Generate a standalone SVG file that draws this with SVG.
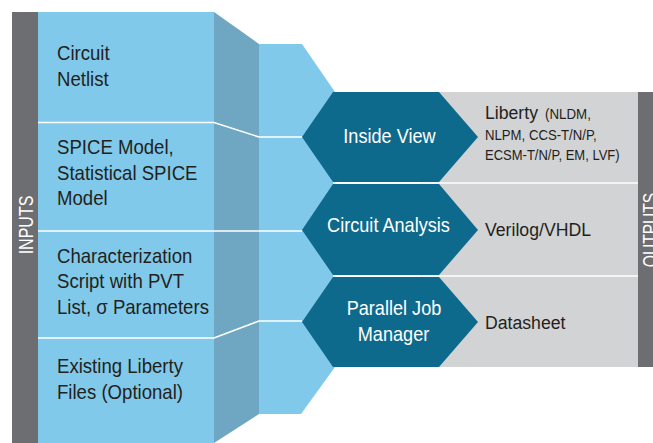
<svg xmlns="http://www.w3.org/2000/svg" width="653" height="443" viewBox="0 0 653 443">
<style>
.t{font-family:"Liberation Sans",Arial,sans-serif;fill:#231f20}
.w{font-family:"Liberation Sans",Arial,sans-serif;fill:#ffffff}
.sep{stroke:#ffffff;stroke-width:1.6;fill:none}
.hex{fill:#0e6a8c}
.bar{fill:#6d6e71}
</style>
<rect width="653" height="443" fill="#ffffff"/>
<g id="inputs-panel">
<rect class="bar" x="12" y="12" width="26" height="431"/>
<rect x="38" y="12" width="176" height="431" fill="#80c9ea"/>
<polygon points="214,12 259,44 259,414 214,443" fill="#6fa6c2"/>
<polygon points="259,44 302,44 335,92 335,367 301,414 259,414" fill="#80c9ea"/>
<text class="w" font-size="20" transform="translate(32.5,225) rotate(-90) scale(0.8,1)" text-anchor="middle">INPUTS</text>
</g>
<g id="outputs-panel">
<rect x="420" y="92" width="218" height="275" fill="#d2d3d5"/>
<rect class="bar" x="638" y="92" width="15" height="275"/>
<text class="w" font-size="20" transform="translate(657,230) rotate(-90) scale(0.78,1)" text-anchor="middle">OUTPUTS</text>
</g>
<g id="connectors">
<polyline class="sep" points="38,122.5 214,122.5 259,137 302,137"/>
<line class="sep" x1="38" y1="231" x2="302" y2="231"/>
<polyline class="sep" points="38,338 214,338 259,321 302,321"/>
<line class="sep" x1="333" y1="183" x2="638" y2="183"/>
<line class="sep" x1="333" y1="276" x2="638" y2="276"/>
</g>
<g id="in-netlist" transform="translate(57,0) scale(0.93,1)">
<text class="t" font-size="20" x="0" y="60">Circuit</text>
<text class="t" font-size="20" x="0" y="86">Netlist</text>
</g>
<g id="in-spice" transform="translate(57,0) scale(0.93,1)">
<text class="t" font-size="20" x="0" y="154">SPICE Model,</text>
<text class="t" font-size="20" x="0" y="180">Statistical SPICE</text>
<text class="t" font-size="20" x="0" y="205">Model</text>
</g>
<g id="in-script" transform="translate(57,0) scale(0.93,1)">
<text class="t" font-size="20" x="0" y="263">Characterization</text>
<text class="t" font-size="20" x="0" y="288">Script with PVT</text>
<text class="t" font-size="20" x="0" y="314">List, σ Parameters</text>
</g>
<g id="in-liberty" transform="translate(57,0) scale(0.93,1)">
<text class="t" font-size="20" x="0" y="373">Existing Liberty</text>
<text class="t" font-size="20" x="0" y="399">Files (Optional)</text>
</g>
<g id="inside-view">
<polygon class="hex" points="333,92 439,92 478,137 439,182 333,182 302,137"/>
<text class="w" font-size="19.5" text-anchor="middle" transform="translate(389.5,143) scale(0.93,1)">Inside View</text>
</g>
<g id="circuit-analysis">
<polygon class="hex" points="333,184 439,184 478,230 439,275 333,275 302,230"/>
<text class="w" font-size="19.5" text-anchor="middle" transform="translate(388.5,232) scale(0.93,1)">Circuit Analysis</text>
</g>
<g id="parallel-job-manager">
<polygon class="hex" points="333,277 439,277 478,322 439,367 333,367 302,322"/>
<text class="w" font-size="19.5" text-anchor="middle" transform="translate(394,315) scale(0.93,1)">Parallel Job</text>
<text class="w" font-size="19.5" text-anchor="middle" transform="translate(393.5,341) scale(0.93,1)">Manager</text>
</g>
<g id="out-liberty">
<text class="t" font-size="19" transform="translate(485,119) scale(0.93,1)">Liberty</text>
<text class="t" font-size="15.5" transform="translate(545,119) scale(0.86,1)">(NLDM,</text>
<text class="t" font-size="15.5" transform="translate(485,140) scale(0.85,1)">NLPM, CCS-T/N/P,</text>
<text class="t" font-size="15.5" transform="translate(485,160) scale(0.84,1)">ECSM-T/N/P, EM, LVF)</text>
</g>
<g id="out-verilog">
<text class="t" font-size="19" transform="translate(485,236) scale(0.93,1)">Verilog/VHDL</text>
</g>
<g id="out-datasheet">
<text class="t" font-size="19" transform="translate(485,329) scale(0.93,1)">Datasheet</text>
</g>
</svg>
